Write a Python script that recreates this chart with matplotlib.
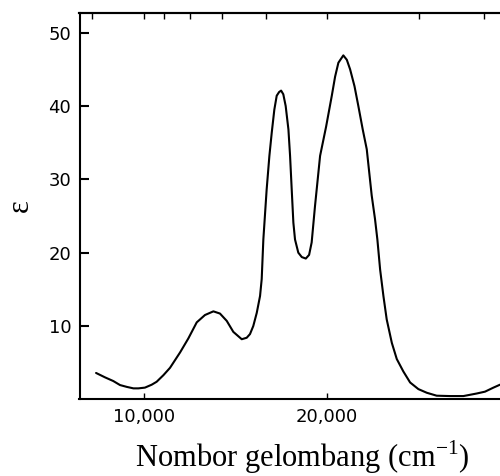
import numpy as np
import matplotlib
matplotlib.use("Agg")
import matplotlib.pyplot as plt

# absorption spectrum
wavenumber = [7380, 7870, 8320, 8690, 9060, 9420, 9690, 10050, 10420, 10690,
              11060, 11420, 11970, 12420, 12880, 13330, 13790, 14150, 14520, 14880,
              15340, 15610, 15790, 15970, 16160, 16340, 16430, 16520, 16700, 16850,
              16980, 17120, 17250, 17380, 17490, 17610, 17740, 17890, 17980, 18070,
              18160, 18250, 18430, 18620, 18840, 19020, 19160, 19340, 19620, 19950,
              20260, 20440, 20620, 20890, 21080, 21260, 21500, 21710, 21950, 22170,
              22440, 22620, 22750, 22900, 23080, 23260, 23540, 23810, 24170, 24540,
              24990, 25450, 25990, 26720, 27450, 28180, 28630, 29090, 29450]
epsilon = [3.6, 3.0, 2.5, 1.95, 1.7, 1.5, 1.5, 1.6, 2.0, 2.4,
           3.3, 4.3, 6.4, 8.3, 10.5, 11.5, 12.0, 11.7, 10.7, 9.2,
           8.2, 8.4, 8.9, 10.0, 11.8, 14.1, 16.4, 21.8, 28.6, 33.2,
           36.4, 39.5, 41.4, 41.9, 42.1, 41.6, 40.0, 36.8, 33.2, 28.6,
           24.1, 21.8, 20.0, 19.4, 19.2, 19.7, 21.4, 26.3, 33.2, 37.2,
           41.4, 44.0, 45.9, 46.9, 46.3, 45.0, 42.7, 40.0, 36.8, 34.1,
           27.8, 24.6, 21.8, 17.7, 14.1, 10.9, 7.7, 5.5, 3.8, 2.3,
           1.4, 0.9, 0.5, 0.45, 0.45, 0.8, 1.05, 1.6, 2.0]

x_ticks = [10000, 20000]
x_ticklabels = ["10,000", "20,000"]
y_ticks = [10, 20, 30, 40, 50]
top_nm = [1400, 1000, 900, 800, 700, 600, 500, 400, 350]  # unlabelled wavelength ticks

fig = plt.figure(figsize=(5.0, 4.76), dpi=100)
ax = fig.add_axes([0.159, 0.161, 0.841, 0.812])

ax.plot(wavenumber, epsilon, color="black", lw=1.5,
        solid_joinstyle="round", solid_capstyle="round")

ax.set_xlim(6475, 29450)
ax.set_ylim(0, 52.7)

for s in ["left", "bottom", "top"]:
    ax.spines[s].set_linewidth(1.5)
ax.spines["right"].set_visible(False)

ax.set_xticks(x_ticks)
ax.set_xticklabels(x_ticklabels, fontsize=13, family="DejaVu Sans")
ax.set_yticks(y_ticks)
ax.set_yticklabels([str(v) for v in y_ticks], fontsize=13, family="DejaVu Sans")
ax.tick_params(axis="y", direction="in", length=6.5, width=1.5, pad=6, right=False)
ax.tick_params(axis="x", direction="in", length=4.5, width=1.0, pad=6)

top = ax.secondary_xaxis("top", functions=(lambda x: 1e7 / x, lambda x: 1e7 / x))
top.set_xticks(top_nm)
top.set_xticklabels([])
top.tick_params(direction="in", length=4, width=1.0)
top.spines["top"].set_linewidth(1.5)

ax.set_xlabel("Nombor gelombang (cm$^{\\mathregular{-1}}$)", fontsize=22,
              family="Liberation Serif")
ax.xaxis.set_label_coords(0.529, -0.1)
ax.set_ylabel("ε", fontsize=22, family="Liberation Serif")
ax.yaxis.set_label_coords(-0.105, 0.5)

fig.savefig("out.png", dpi=100)
